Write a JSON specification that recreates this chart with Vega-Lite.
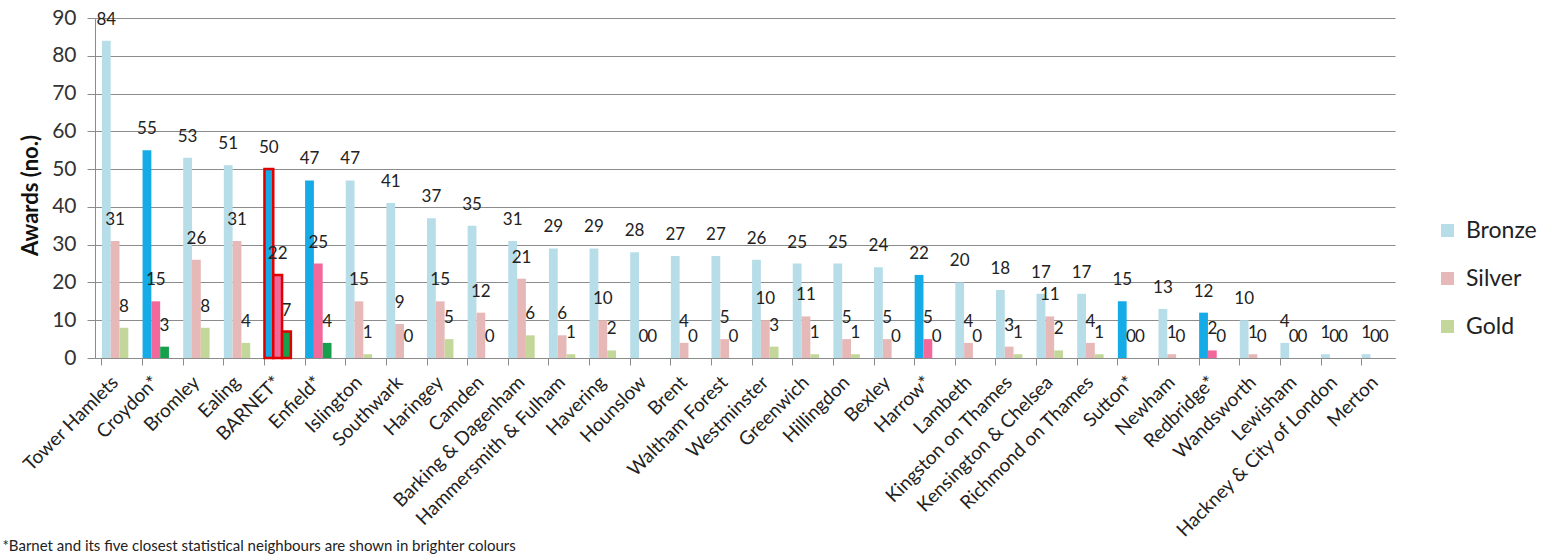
{
  "$schema": "https://vega.github.io/schema/vega-lite/v6.json",
  "width": 1300,
  "height": 340,
  "autosize": "none",
  "padding": {"left": 95, "top": 18, "right": 151, "bottom": 202},
  "background": "white",
  "config": {"font": "Lato", "view": {"stroke": null}},
  "data": {"values": [
    {"Borough": "Tower Hamlets", "Medal": "Bronze", "Awards": 84, "Neighbour": false},
    {"Borough": "Tower Hamlets", "Medal": "Silver", "Awards": 31, "Neighbour": false},
    {"Borough": "Tower Hamlets", "Medal": "Gold", "Awards": 8, "Neighbour": false},
    {"Borough": "Croydon*", "Medal": "Bronze", "Awards": 55, "Neighbour": true},
    {"Borough": "Croydon*", "Medal": "Silver", "Awards": 15, "Neighbour": true},
    {"Borough": "Croydon*", "Medal": "Gold", "Awards": 3, "Neighbour": true},
    {"Borough": "Bromley", "Medal": "Bronze", "Awards": 53, "Neighbour": false},
    {"Borough": "Bromley", "Medal": "Silver", "Awards": 26, "Neighbour": false},
    {"Borough": "Bromley", "Medal": "Gold", "Awards": 8, "Neighbour": false},
    {"Borough": "Ealing", "Medal": "Bronze", "Awards": 51, "Neighbour": false},
    {"Borough": "Ealing", "Medal": "Silver", "Awards": 31, "Neighbour": false},
    {"Borough": "Ealing", "Medal": "Gold", "Awards": 4, "Neighbour": false},
    {"Borough": "BARNET*", "Medal": "Bronze", "Awards": 50, "Neighbour": true},
    {"Borough": "BARNET*", "Medal": "Silver", "Awards": 22, "Neighbour": true},
    {"Borough": "BARNET*", "Medal": "Gold", "Awards": 7, "Neighbour": true},
    {"Borough": "Enfield*", "Medal": "Bronze", "Awards": 47, "Neighbour": true},
    {"Borough": "Enfield*", "Medal": "Silver", "Awards": 25, "Neighbour": true},
    {"Borough": "Enfield*", "Medal": "Gold", "Awards": 4, "Neighbour": true},
    {"Borough": "Islington", "Medal": "Bronze", "Awards": 47, "Neighbour": false},
    {"Borough": "Islington", "Medal": "Silver", "Awards": 15, "Neighbour": false},
    {"Borough": "Islington", "Medal": "Gold", "Awards": 1, "Neighbour": false},
    {"Borough": "Southwark", "Medal": "Bronze", "Awards": 41, "Neighbour": false},
    {"Borough": "Southwark", "Medal": "Silver", "Awards": 9, "Neighbour": false},
    {"Borough": "Southwark", "Medal": "Gold", "Awards": 0, "Neighbour": false},
    {"Borough": "Haringey", "Medal": "Bronze", "Awards": 37, "Neighbour": false},
    {"Borough": "Haringey", "Medal": "Silver", "Awards": 15, "Neighbour": false},
    {"Borough": "Haringey", "Medal": "Gold", "Awards": 5, "Neighbour": false},
    {"Borough": "Camden", "Medal": "Bronze", "Awards": 35, "Neighbour": false},
    {"Borough": "Camden", "Medal": "Silver", "Awards": 12, "Neighbour": false},
    {"Borough": "Camden", "Medal": "Gold", "Awards": 0, "Neighbour": false},
    {"Borough": "Barking & Dagenham", "Medal": "Bronze", "Awards": 31, "Neighbour": false},
    {"Borough": "Barking & Dagenham", "Medal": "Silver", "Awards": 21, "Neighbour": false},
    {"Borough": "Barking & Dagenham", "Medal": "Gold", "Awards": 6, "Neighbour": false},
    {"Borough": "Hammersmith & Fulham", "Medal": "Bronze", "Awards": 29, "Neighbour": false},
    {"Borough": "Hammersmith & Fulham", "Medal": "Silver", "Awards": 6, "Neighbour": false},
    {"Borough": "Hammersmith & Fulham", "Medal": "Gold", "Awards": 1, "Neighbour": false},
    {"Borough": "Havering", "Medal": "Bronze", "Awards": 29, "Neighbour": false},
    {"Borough": "Havering", "Medal": "Silver", "Awards": 10, "Neighbour": false},
    {"Borough": "Havering", "Medal": "Gold", "Awards": 2, "Neighbour": false},
    {"Borough": "Hounslow", "Medal": "Bronze", "Awards": 28, "Neighbour": false},
    {"Borough": "Hounslow", "Medal": "Silver", "Awards": 0, "Neighbour": false},
    {"Borough": "Hounslow", "Medal": "Gold", "Awards": 0, "Neighbour": false},
    {"Borough": "Brent", "Medal": "Bronze", "Awards": 27, "Neighbour": false},
    {"Borough": "Brent", "Medal": "Silver", "Awards": 4, "Neighbour": false},
    {"Borough": "Brent", "Medal": "Gold", "Awards": 0, "Neighbour": false},
    {"Borough": "Waltham Forest", "Medal": "Bronze", "Awards": 27, "Neighbour": false},
    {"Borough": "Waltham Forest", "Medal": "Silver", "Awards": 5, "Neighbour": false},
    {"Borough": "Waltham Forest", "Medal": "Gold", "Awards": 0, "Neighbour": false},
    {"Borough": "Westminster", "Medal": "Bronze", "Awards": 26, "Neighbour": false},
    {"Borough": "Westminster", "Medal": "Silver", "Awards": 10, "Neighbour": false},
    {"Borough": "Westminster", "Medal": "Gold", "Awards": 3, "Neighbour": false},
    {"Borough": "Greenwich", "Medal": "Bronze", "Awards": 25, "Neighbour": false},
    {"Borough": "Greenwich", "Medal": "Silver", "Awards": 11, "Neighbour": false},
    {"Borough": "Greenwich", "Medal": "Gold", "Awards": 1, "Neighbour": false},
    {"Borough": "Hillingdon", "Medal": "Bronze", "Awards": 25, "Neighbour": false},
    {"Borough": "Hillingdon", "Medal": "Silver", "Awards": 5, "Neighbour": false},
    {"Borough": "Hillingdon", "Medal": "Gold", "Awards": 1, "Neighbour": false},
    {"Borough": "Bexley", "Medal": "Bronze", "Awards": 24, "Neighbour": false},
    {"Borough": "Bexley", "Medal": "Silver", "Awards": 5, "Neighbour": false},
    {"Borough": "Bexley", "Medal": "Gold", "Awards": 0, "Neighbour": false},
    {"Borough": "Harrow*", "Medal": "Bronze", "Awards": 22, "Neighbour": true},
    {"Borough": "Harrow*", "Medal": "Silver", "Awards": 5, "Neighbour": true},
    {"Borough": "Harrow*", "Medal": "Gold", "Awards": 0, "Neighbour": true},
    {"Borough": "Lambeth", "Medal": "Bronze", "Awards": 20, "Neighbour": false},
    {"Borough": "Lambeth", "Medal": "Silver", "Awards": 4, "Neighbour": false},
    {"Borough": "Lambeth", "Medal": "Gold", "Awards": 0, "Neighbour": false},
    {"Borough": "Kingston on Thames", "Medal": "Bronze", "Awards": 18, "Neighbour": false},
    {"Borough": "Kingston on Thames", "Medal": "Silver", "Awards": 3, "Neighbour": false},
    {"Borough": "Kingston on Thames", "Medal": "Gold", "Awards": 1, "Neighbour": false},
    {"Borough": "Kensington & Chelsea", "Medal": "Bronze", "Awards": 17, "Neighbour": false},
    {"Borough": "Kensington & Chelsea", "Medal": "Silver", "Awards": 11, "Neighbour": false},
    {"Borough": "Kensington & Chelsea", "Medal": "Gold", "Awards": 2, "Neighbour": false},
    {"Borough": "Richmond on Thames", "Medal": "Bronze", "Awards": 17, "Neighbour": false},
    {"Borough": "Richmond on Thames", "Medal": "Silver", "Awards": 4, "Neighbour": false},
    {"Borough": "Richmond on Thames", "Medal": "Gold", "Awards": 1, "Neighbour": false},
    {"Borough": "Sutton*", "Medal": "Bronze", "Awards": 15, "Neighbour": true},
    {"Borough": "Sutton*", "Medal": "Silver", "Awards": 0, "Neighbour": true},
    {"Borough": "Sutton*", "Medal": "Gold", "Awards": 0, "Neighbour": true},
    {"Borough": "Newham", "Medal": "Bronze", "Awards": 13, "Neighbour": false},
    {"Borough": "Newham", "Medal": "Silver", "Awards": 1, "Neighbour": false},
    {"Borough": "Newham", "Medal": "Gold", "Awards": 0, "Neighbour": false},
    {"Borough": "Redbridge*", "Medal": "Bronze", "Awards": 12, "Neighbour": true},
    {"Borough": "Redbridge*", "Medal": "Silver", "Awards": 2, "Neighbour": true},
    {"Borough": "Redbridge*", "Medal": "Gold", "Awards": 0, "Neighbour": true},
    {"Borough": "Wandsworth", "Medal": "Bronze", "Awards": 10, "Neighbour": false},
    {"Borough": "Wandsworth", "Medal": "Silver", "Awards": 1, "Neighbour": false},
    {"Borough": "Wandsworth", "Medal": "Gold", "Awards": 0, "Neighbour": false},
    {"Borough": "Lewisham", "Medal": "Bronze", "Awards": 4, "Neighbour": false},
    {"Borough": "Lewisham", "Medal": "Silver", "Awards": 0, "Neighbour": false},
    {"Borough": "Lewisham", "Medal": "Gold", "Awards": 0, "Neighbour": false},
    {"Borough": "Hackney & City of London", "Medal": "Bronze", "Awards": 1, "Neighbour": false},
    {"Borough": "Hackney & City of London", "Medal": "Silver", "Awards": 0, "Neighbour": false},
    {"Borough": "Hackney & City of London", "Medal": "Gold", "Awards": 0, "Neighbour": false},
    {"Borough": "Merton", "Medal": "Bronze", "Awards": 1, "Neighbour": false},
    {"Borough": "Merton", "Medal": "Silver", "Awards": 0, "Neighbour": false},
    {"Borough": "Merton", "Medal": "Gold", "Awards": 0, "Neighbour": false}
  ]},
  "encoding": {
    "x": {
      "field": "Borough", "type": "nominal", "sort": null,
      "scale": {"paddingInner": 0.35, "paddingOuter": 0.17},
      "axis": {
        "bandPosition": 0,
        "labelAngle": -45, "labelAlign": "right", "labelBaseline": "middle",
        "labelFontSize": 19, "labelColor": "#222222", "labelPadding": 14, "labelLimit": 400,
        "tickSize": 7, "tickColor": "#8c8c8c", "domainColor": "#8c8c8c",
        "labelOverlap": false,
        "title": "*Barnet and its five closest statistical neighbours are shown in brighter colours",
        "titleFontSize": 15, "titleFontWeight": "normal", "titleColor": "#222222",
        "titleAnchor": "start", "titleAlign": "left", "titleBaseline": "middle",
        "titleX": -93, "titleY": 187
      }
    },
    "xOffset": {"field": "Medal", "type": "nominal", "sort": ["Bronze", "Silver", "Gold"]},
    "y": {
      "field": "Awards", "type": "quantitative",
      "scale": {"domain": [0, 90], "nice": false},
      "axis": {
        "values": [0, 10, 20, 30, 40, 50, 60, 70, 80, 90],
        "labelFontSize": 21, "labelColor": "#333333", "labelPadding": 11,
        "tickSize": 8, "tickColor": "#8c8c8c", "domainColor": "#8c8c8c",
        "gridColor": "#8c8c8c", "gridWidth": 1,
        "title": "Awards (no.)", "titleFontSize": 22, "titleFontWeight": "bold", "titleColor": "#111111",
        "titleAngle": -90, "titleAlign": "center", "titleBaseline": "middle",
        "titleX": -65, "titleY": 177
      }
    }
  },
  "layer": [
    {
      "mark": {"type": "bar", "strokeWidth": 2.5},
      "encoding": {
        "color": {
          "condition": [
            {"test": "datum.Neighbour && datum.Medal === 'Bronze'", "value": "#14ABE6"},
            {"test": "datum.Neighbour && datum.Medal === 'Silver'", "value": "#F2689A"},
            {"test": "datum.Neighbour && datum.Medal === 'Gold'", "value": "#16A04E"}
          ],
          "field": "Medal", "type": "nominal",
          "scale": {"domain": ["Bronze", "Silver", "Gold"], "range": ["#B7DDE8", "#E6B9B8", "#C4D79B"]},
          "legend": {
            "title": null, "orient": "none", "legendX": 1341, "legendY": 201,
            "symbolType": "square", "symbolSize": 169, "symbolStrokeWidth": 0,
            "labelFontSize": 23, "labelColor": "#222222", "labelOffset": 7, "rowPadding": 24
          }
        },
        "stroke": {"condition": {"test": "datum.Borough === 'BARNET*'", "value": "#E00000"}, "value": null}
      }
    },
    {
      "mark": {"type": "text", "fontSize": 17, "dy": -21, "baseline": "middle", "color": "#222222"},
      "encoding": {"text": {"field": "Awards", "type": "quantitative"}}
    }
  ]
}
